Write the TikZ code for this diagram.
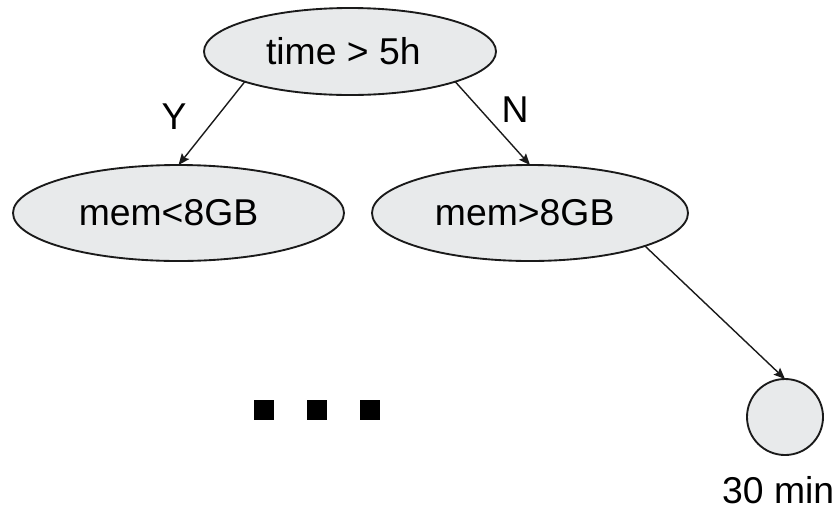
\documentclass[tikz,border=0pt]{standalone}
\usepackage{fontspec}
\setmainfont{Liberation Sans}
\usetikzlibrary{shapes.geometric,arrows.meta}
\definecolor{nodefill}{HTML}{E8EAEB}
\definecolor{inkline}{HTML}{1A1A1A}
\newcommand{\padright}[1]{\rule{#1}{0pt}}
\tikzset{
  treenode/.style={ellipse, draw=inkline, fill=nodefill, line width=1.4pt,
    inner sep=0pt, outer sep=0pt, font=\fontsize{28}{33}\selectfont},
  leafnode/.style={circle, draw=inkline, fill=nodefill, line width=1.4pt,
    inner sep=0pt, outer sep=0pt, minimum size=57pt},
  edgelabel/.style={font=\fontsize{28}{33}\selectfont, inner sep=0pt},
  link/.style={draw=inkline, line width=1.05pt,
    -{Stealth[length=8.5pt,width=7pt,inset=1.5pt]}},
  dotbox/.style={rectangle, fill=black, inner sep=0pt, minimum size=15pt}
}
\begin{document}
\begin{tikzpicture}[x=0.75pt,y=-0.75pt]
  \useasboundingbox (0,0) rectangle (838,508);

  % decision nodes (text sits a little left of centre)
  \node[treenode, minimum width=219pt, minimum height=65.25pt] (root) at (350,51.5)
    {time > 5h\padright{10pt}};
  \node[treenode, minimum width=248.25pt, minimum height=72pt] (low) at (178.5,213)
    {mem<8GB\padright{15pt}};
  \node[treenode, minimum width=237pt, minimum height=72pt] (high) at (530,213)
    {mem>8GB\padright{8pt}};

  % leaf
  \node[leafnode] (leaf) at (785,417) {};
  \node[edgelabel, anchor=base east] (leaftext) at (834.5,503) {30 min};

  % elided subtree
  \node[dotbox] (d1) at (264,410) {};
  \node[dotbox] (d2) at (317,410) {};
  \node[dotbox] (d3) at (370,410) {};

  % branches
  \draw[link] (root.196.6) -- (low.north);
  \draw[link] (root.-16.6) -- (high.north);
  \draw[link] (high.-16.8) -- (leaf.north);

  % branch labels
  \node[edgelabel] (yes) at (174,117) {Y};
  \node[edgelabel] (no) at (515,110) {N};
\end{tikzpicture}
\end{document}
